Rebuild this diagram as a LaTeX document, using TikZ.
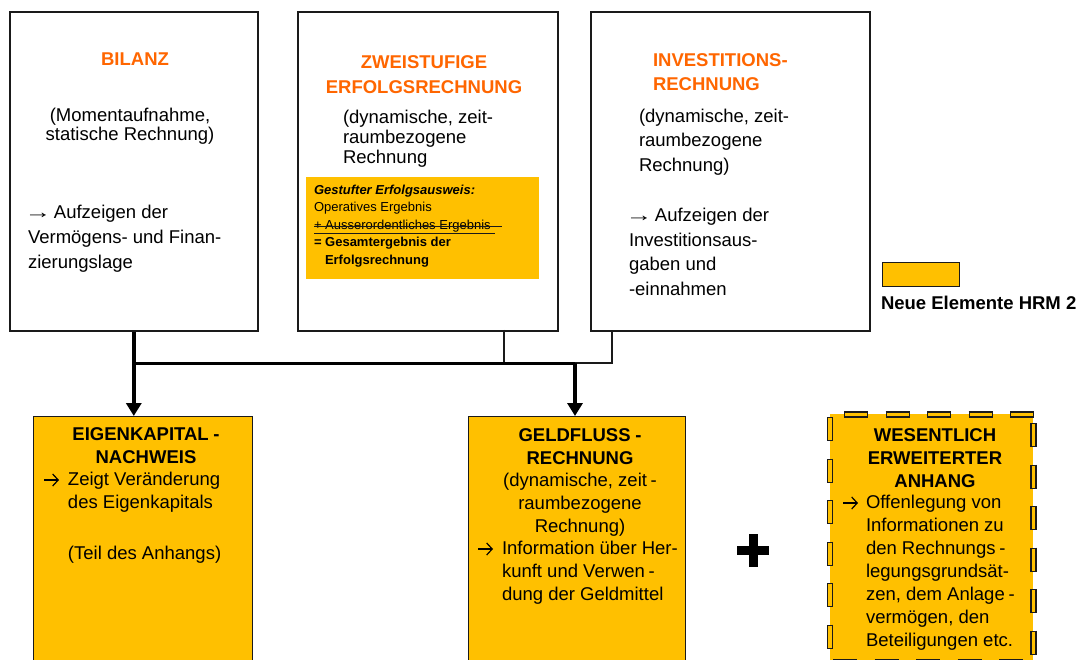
\documentclass[tikz,border=0pt]{standalone}
\usepackage{fontspec}
\usepackage{graphicx}
\setmainfont{Liberation Sans}
\usetikzlibrary{arrows.meta}
\definecolor{gold}{HTML}{FFC000}
\definecolor{orng}{HTML}{FF6600}
\definecolor{edge}{HTML}{1A1A1A}
\newcommand\fs[2]{\fontsize{#1}{#2}\selectfont}
\newcommand\arr{\hspace*{24pt}}
\newcommand\tarr{\kern-3.5pt\scalebox{1.45}[1]{→}\kern-2.5pt}
\newcommand\ind{\hspace*{24pt}}
\begin{document}
\begin{tikzpicture}[x=1pt,y=-1pt,
  topbox/.style={draw=edge, line width=1.6pt, fill=white, anchor=north west, inner sep=0pt},
  botbox/.style={draw=edge, line width=1.4pt, fill=gold, anchor=north west, inner sep=0pt},
  txt/.style={inner sep=0pt, outer sep=0pt},
  body/.style={txt, font=\fs{18.5}{23}},
  ttl/.style={txt, text=orng, font=\bfseries\fs{18.5}{24.5}},
  bttl/.style={txt, font=\bfseries\fs{18.5}{23}},
  heavy/.style={line width=4pt, draw=black, -{Triangle[length=13pt,width=15pt]}},
  mainline/.style={line width=3pt, draw=black},
  thinline/.style={line width=1.5pt, draw=edge},
  bullarrow/.style={line width=1.2pt, draw=black, -{Straight Barb[length=5.5pt,width=12pt]}},
  dashblack/.style={line width=6.5pt, draw=edge, dash pattern=on 24pt off 17.5pt},
  dashgold/.style={line width=3.8pt, draw=gold, dash pattern=on 22pt off 19.5pt, dash phase=40.5pt},
]
\useasboundingbox[fill=white] (0,0) rectangle (1079,660);

% ---- top boxes
\node[topbox, minimum width=248pt, minimum height=319pt] (bilanz) at (9,11) {};
\node[topbox, minimum width=260pt, minimum height=319pt] (zweist) at (297,11) {};
\node[topbox, minimum width=279pt, minimum height=319pt] (invest) at (590,11) {};

% BILANZ
\node[ttl] (tbil) at (135,59) {BILANZ};
\node[body, align=center, font=\fs{18.5}{19.5}] (bil1) at (130,126) {(Momentaufnahme,\\statische Rechnung)};
\node[body, align=left, anchor=west, font=\fs{18.5}{25}] (bil2) at (28,239) {\tarr{} Aufzeigen der\\Vermögens- und Finan-\\zierungslage};

% ZWEISTUFIGE
\node[ttl, align=center, font=\bfseries\fs{18.5}{25}] (tzw) at (424,75) {ZWEISTUFIGE\\ERFOLGSRECHNUNG};
\node[body, align=left, anchor=west, font=\fs{18.5}{20}] (zw1) at (343,139) {(dynamische, zeit-\\raumbezogene\\Rechnung};
\node[fill=gold, anchor=north west, minimum width=233pt, minimum height=102pt, inner sep=0pt] (erfbox) at (306,177) {};
\node[txt, align=left, anchor=west, font=\fs{13}{17.5}] (erf) at (314,226)
  {\textbf{\textit{Gestufter Erfolgsausweis:}}\\Operatives Ergebnis\\+ Ausserordentliches Ergebnis\\\textbf{= Gesamtergebnis der}\\\hspace*{11pt}\textbf{Erfolgsrechnung}};
\coordinate (s1) at (314,226.5);
\coordinate (s2) at (502,226.5);
\coordinate (u1) at (314,233);
\coordinate (u2) at (495,233);
\draw[line width=0.9pt, edge] (s1) -- (s2);
\draw[line width=0.9pt, edge] (u1) -- (u2);

% INVESTITIONS
\node[ttl, align=left, anchor=west, font=\bfseries\fs{18.5}{24}] (tinv) at (653,72) {INVESTITIONS-\\RECHNUNG};
\node[body, align=left, anchor=west, font=\fs{18.5}{24.5}] (inv1) at (639,142) {(dynamische, zeit-\\raumbezogene\\Rechnung)};
\node[body, align=left, anchor=west, font=\fs{18.5}{24.7}] (inv2) at (629,252) {\tarr{} Aufzeigen der\\Investitionsaus-\\gaben und\\-einnahmen};

% legend
\node[draw=edge, line width=1.4pt, fill=gold, anchor=north west, minimum width=77pt, minimum height=24pt, inner sep=0pt] (leg) at (882,262) {};
\node[txt, anchor=west, font=\bfseries\fs{18.5}{22}] (legt) at (881,303) {Neue Elemente HRM 2};

% ---- bottom boxes
\node[botbox, minimum width=219pt, minimum height=264pt] (ek) at (33,416) {};
\node[botbox, minimum width=217pt, minimum height=264pt] (geld) at (468,416) {};
\node[fill=gold, anchor=north west, minimum width=203pt, minimum height=248pt, inner sep=0pt] (anh) at (830,414) {};

% dashed outline of Anhang box
\coordinate (at1) at (844,414.5);  \coordinate (at2) at (1035,414.5);
\coordinate (al1) at (830,417);    \coordinate (al2) at (830,670);
\coordinate (ar1) at (1033.5,423); \coordinate (ar2) at (1033.5,670);
\coordinate (ab1) at (833,662.5);  \coordinate (ab2) at (1035,662.5);
\foreach \a/\b in {at1/at2, al1/al2, ar1/ar2, ab1/ab2}{
  \draw[dashblack] (\a) -- (\b);
  \draw[dashgold] (\a) -- (\b);
}

% EIGENKAPITAL
\node[bttl, align=center] (tek) at (146,446) {EIGENKAPITAL\kern.25em-\\NACHWEIS};
\node[body, align=left, anchor=west] (ek1) at (44,518) {\arr Zeigt Veränderung\\\ind des Eigenkapitals\\[28pt]\ind (Teil des Anhangs)};

% GELDFLUSS
\node[bttl, align=center] (tgeld) at (580,447) {GELDFLUSS\kern.25em-\\RECHNUNG};
\node[body, align=center] (geld1) at (580,505) {(dynamische, zeit\kern.2em-\\raumbezogene\\Rechnung)};
\node[body, align=left, anchor=west] (geld2) at (478,573) {\arr Information über Her-\\\ind kunft und Verwen\kern.2em-\\\ind dung der Geldmittel};

% WESENTLICH
\node[bttl, align=center] (tanh) at (935,458) {WESENTLICH\\ERWEITERTER\\ANHANG};
\node[body, align=left, anchor=west] (anh1) at (842,573) {\arr Offenlegung von\\\ind Informationen zu\\\ind den Rechnungs\kern.2em-\\\ind legungsgrundsät-\\\ind zen, dem Anlage\kern.2em-\\\ind vermögen, den\\\ind Beteiligungen etc.};

% bullet arrows of the bottom boxes
\coordinate (ekA) at (44,480);   \coordinate (ekB) at (59,480);
\coordinate (gA) at (478,549);   \coordinate (gB) at (493,549);
\coordinate (wA) at (843,503);   \coordinate (wB) at (858,503);
\draw[bullarrow] (ekA) -- (ekB);
\draw[bullarrow] (gA) -- (gB);
\draw[bullarrow] (wA) -- (wB);

% plus sign
\fill[black] (737,546) rectangle (769,555);
\fill[black] (749,534) rectangle (758,567);

% ---- connectors
\coordinate (j1) at (bilanz.south |- 0,363);
\coordinate (j2) at (575,363);
\coordinate (zb) at (504,330);
\coordinate (ib) at (612,330);
\draw[thinline] (zb) -- (zb |- j1) -- (ib |- j1) -- (ib);
\draw[mainline] (j1) -- (j2);
\draw[heavy] (bilanz.south) -- (bilanz.south |- ek.north);
\draw[heavy] (j2) -- (j2 |- geld.north);
\end{tikzpicture}
\end{document}
